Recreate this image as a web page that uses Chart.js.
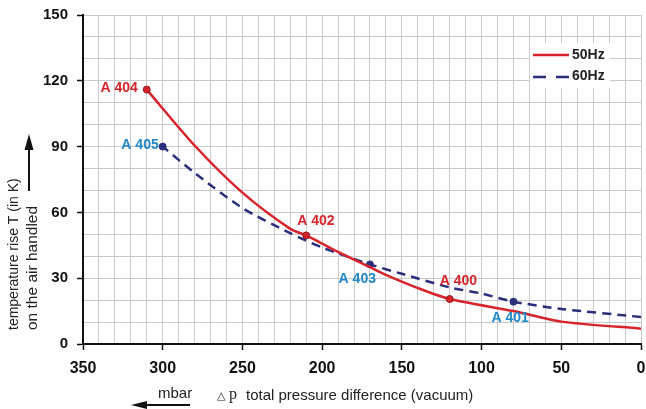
<!DOCTYPE html>
<html>
<head>
<meta charset="utf-8">
<script src="https://cdn.jsdelivr.net/npm/chart.js@4.4.1/dist/chart.umd.min.js"></script>
<style>
    html, body { margin: 0; padding: 0; background: #fff; }
    #wrap { width: 646px; height: 409px; }
</style>
</head>
<body>
<div id="wrap"><canvas id="chart" width="646" height="409"></canvas></div>
<script>
// pressure difference in mbar -> temperature rise in K
const hz50X = [0, 50, 80, 120, 140, 160, 170, 190, 210, 220, 250, 280, 310];
const hz50Y = [7, 10.2, 15, 20.5, 25.5, 31.5, 35, 42, 49.5, 52.5, 69, 90.5, 116];
const hz60X = [0, 50, 80, 100, 120, 150, 170, 200, 220, 250, 280, 300];
const hz60Y = [12.3, 16, 19.3, 23, 25.8, 32, 36.3, 44, 50.5, 62, 78, 90];

// pump models marked on the curves
const marks50 = [310, 210, 120];
const names50 = ['A 404', 'A 402', 'A 400'];
const marks60 = [300, 170, 80];
const names60 = ['A 405', 'A 403', 'A 401'];

const xTicks = [350, 300, 250, 200, 150, 100, 50, 0];
const yTicks = [0, 30, 60, 90, 120, 150];

const RED = '#d9232a';
const NAVY = '#2a2f7c';
const LABEL_BLUE = '#1e88c8';
const FONT = 'Liberation Sans, Arial, sans-serif';

// label placement next to the marker: [dx, dy, align]
const offsets50 = [[-9, -1.5, 'right'], [-9, -14, 'left'], [-10, -18, 'left']];
const offsets60 = [[-4, -1, 'right'], [6, 15, 'right'], [-22, 16, 'left']];

const toPoints = (xs, ys) => xs.map((x, i) => ({ x, y: ys[i] }));

const markLabels = {
    id: 'markLabels',
    afterDatasetsDraw(chart) {
        const ctx = chart.ctx;
        const groups = [
            { idx: 0, marks: marks50, names: names50, offs: offsets50, color: RED },
            { idx: 1, marks: marks60, names: names60, offs: offsets60, color: LABEL_BLUE }
        ];
        ctx.save();
        ctx.font = 'bold 14px ' + FONT;
        ctx.textBaseline = 'middle';
        groups.forEach(g => {
            const meta = chart.getDatasetMeta(g.idx);
            const data = chart.data.datasets[g.idx].data;
            g.marks.forEach((m, i) => {
                const j = data.findIndex(p => p.x === m);
                if (j < 0) return;
                const el = meta.data[j];
                const [dx, dy, align] = g.offs[i];
                ctx.fillStyle = g.color;
                ctx.textAlign = align;
                ctx.fillText(g.names[i], el.x + dx, el.y + dy);
            });
        });
        ctx.restore();
    }
};

const boxLegend = {
    id: 'boxLegend',
    afterDatasetsDraw(chart) {
        const ctx = chart.ctx;
        ctx.save();
        ctx.fillStyle = '#fff';
        ctx.fillRect(530, 43, 80, 45);
        ctx.lineWidth = 2.5;
        ctx.strokeStyle = RED;
        ctx.beginPath(); ctx.moveTo(533, 55); ctx.lineTo(569, 55); ctx.stroke();
        ctx.strokeStyle = NAVY;
        ctx.setLineDash([13, 10]);
        ctx.beginPath(); ctx.moveTo(533, 77); ctx.lineTo(569, 77); ctx.stroke();
        ctx.setLineDash([]);
        ctx.fillStyle = '#222';
        ctx.font = 'bold 14px ' + FONT;
        ctx.textAlign = 'left';
        ctx.textBaseline = 'middle';
        ctx.fillText(chart.data.datasets[0].label, 572, 55);
        ctx.fillText(chart.data.datasets[1].label, 572, 76);
        ctx.restore();
    }
};

const axisTitles = {
    id: 'axisTitles',
    afterDraw(chart) {
        const ctx = chart.ctx;
        ctx.save();
        ctx.fillStyle = '#222';
        ctx.strokeStyle = '#111';

        // y title, two rotated lines
        ctx.save();
        ctx.translate(0, 330);
        ctx.rotate(-Math.PI / 2);
        ctx.textAlign = 'left';
        ctx.textBaseline = 'middle';
        ctx.font = '14px ' + FONT;
        ctx.fillText('temperature rise T (in K)', 0, 14);
        ctx.font = '15.5px ' + FONT;
        ctx.fillText('on the air handled', 0, 33);
        ctx.restore();

        // up arrow
        ctx.lineWidth = 2;
        ctx.beginPath(); ctx.moveTo(29, 191); ctx.lineTo(29, 145); ctx.stroke();
        ctx.fillStyle = '#111';
        ctx.beginPath(); ctx.moveTo(29, 134); ctx.lineTo(24.5, 150); ctx.lineTo(33.5, 150); ctx.closePath(); ctx.fill();

        // x title
        ctx.fillStyle = '#222';
        ctx.textAlign = 'left';
        ctx.textBaseline = 'alphabetic';
        ctx.font = '11px DejaVu Sans, sans-serif';
        ctx.fillText('\u25B3', 217, 399);
        ctx.font = '16px Liberation Serif, serif';
        ctx.fillText('p', 229, 399);
        ctx.font = '15px ' + FONT;
        ctx.fillText('total pressure difference (vacuum)', 246, 400);
        ctx.fillText('mbar', 158, 398);

        // left arrow under mbar
        ctx.lineWidth = 2;
        ctx.beginPath(); ctx.moveTo(190, 405); ctx.lineTo(142, 405); ctx.stroke();
        ctx.fillStyle = '#111';
        ctx.beginPath(); ctx.moveTo(131, 405); ctx.lineTo(147, 401); ctx.lineTo(147, 409); ctx.closePath(); ctx.fill();
        ctx.restore();
    }
};

const markerSize = marks => c => (c.raw && marks.includes(c.raw.x)) ? 3.5 : 0;

new Chart(document.getElementById('chart'), {
    type: 'line',
    data: {
        datasets: [
            {
                label: '50Hz',
                data: toPoints(hz50X, hz50Y),
                borderColor: RED,
                borderWidth: 2.5,
                tension: 0.25,
                pointRadius: markerSize(marks50),
                pointBackgroundColor: RED,
                pointBorderColor: '#8a1a1a',
                pointBorderWidth: 1
            },
            {
                label: '60Hz',
                data: toPoints(hz60X, hz60Y),
                borderColor: NAVY,
                borderWidth: 2.5,
                borderDash: [9, 6],
                tension: 0.25,
                pointRadius: markerSize(marks60),
                pointBackgroundColor: NAVY,
                pointBorderColor: NAVY,
                pointBorderWidth: 1
            }
        ]
    },
    options: {
        responsive: false,
        animation: false,
        events: [],
        layout: { padding: { top: 15, right: 3, left: 0, bottom: 0 } },
        plugins: { legend: { display: false }, tooltip: { enabled: false } },
        scales: {
            x: {
                type: 'linear',
                reverse: true,
                min: 0,
                max: 350,
                ticks: {
                    stepSize: 10,
                    autoSkip: false,
                    maxRotation: 0,
                    padding: 9,
                    color: '#111',
                    font: { family: FONT, size: 16, weight: 'bold' },
                    callback: v => xTicks.includes(v) ? String(v) : ''
                },
                grid: {
                    color: '#cacaca',
                    lineWidth: 1,
                    tickLength: 6,
                    tickWidth: 1.5,
                    tickColor: c => xTicks.includes(c.tick.value) ? '#111' : 'rgba(0,0,0,0)'
                },
                border: { color: '#111', width: 2 },
                afterFit: s => { s.height = 65; s.paddingLeft = 0; s.paddingRight = 0; }
            },
            y: {
                min: 0,
                max: 150,
                ticks: {
                    stepSize: 10,
                    autoSkip: false,
                    padding: 9,
                    color: '#111',
                    font: { family: FONT, size: 15, weight: 'bold' },
                    callback: v => yTicks.includes(v) ? String(v) : ''
                },
                grid: {
                    color: '#cacaca',
                    lineWidth: 1,
                    tickLength: 6,
                    tickWidth: 1.5,
                    tickColor: c => yTicks.includes(c.tick.value) ? '#111' : 'rgba(0,0,0,0)'
                },
                border: { color: '#111', width: 2 },
                afterFit: s => { s.width = 83; s.paddingTop = 0; s.paddingBottom = 0; }
            }
        }
    },
    plugins: [markLabels, boxLegend, axisTitles]
});
</script>
</body>
</html>
